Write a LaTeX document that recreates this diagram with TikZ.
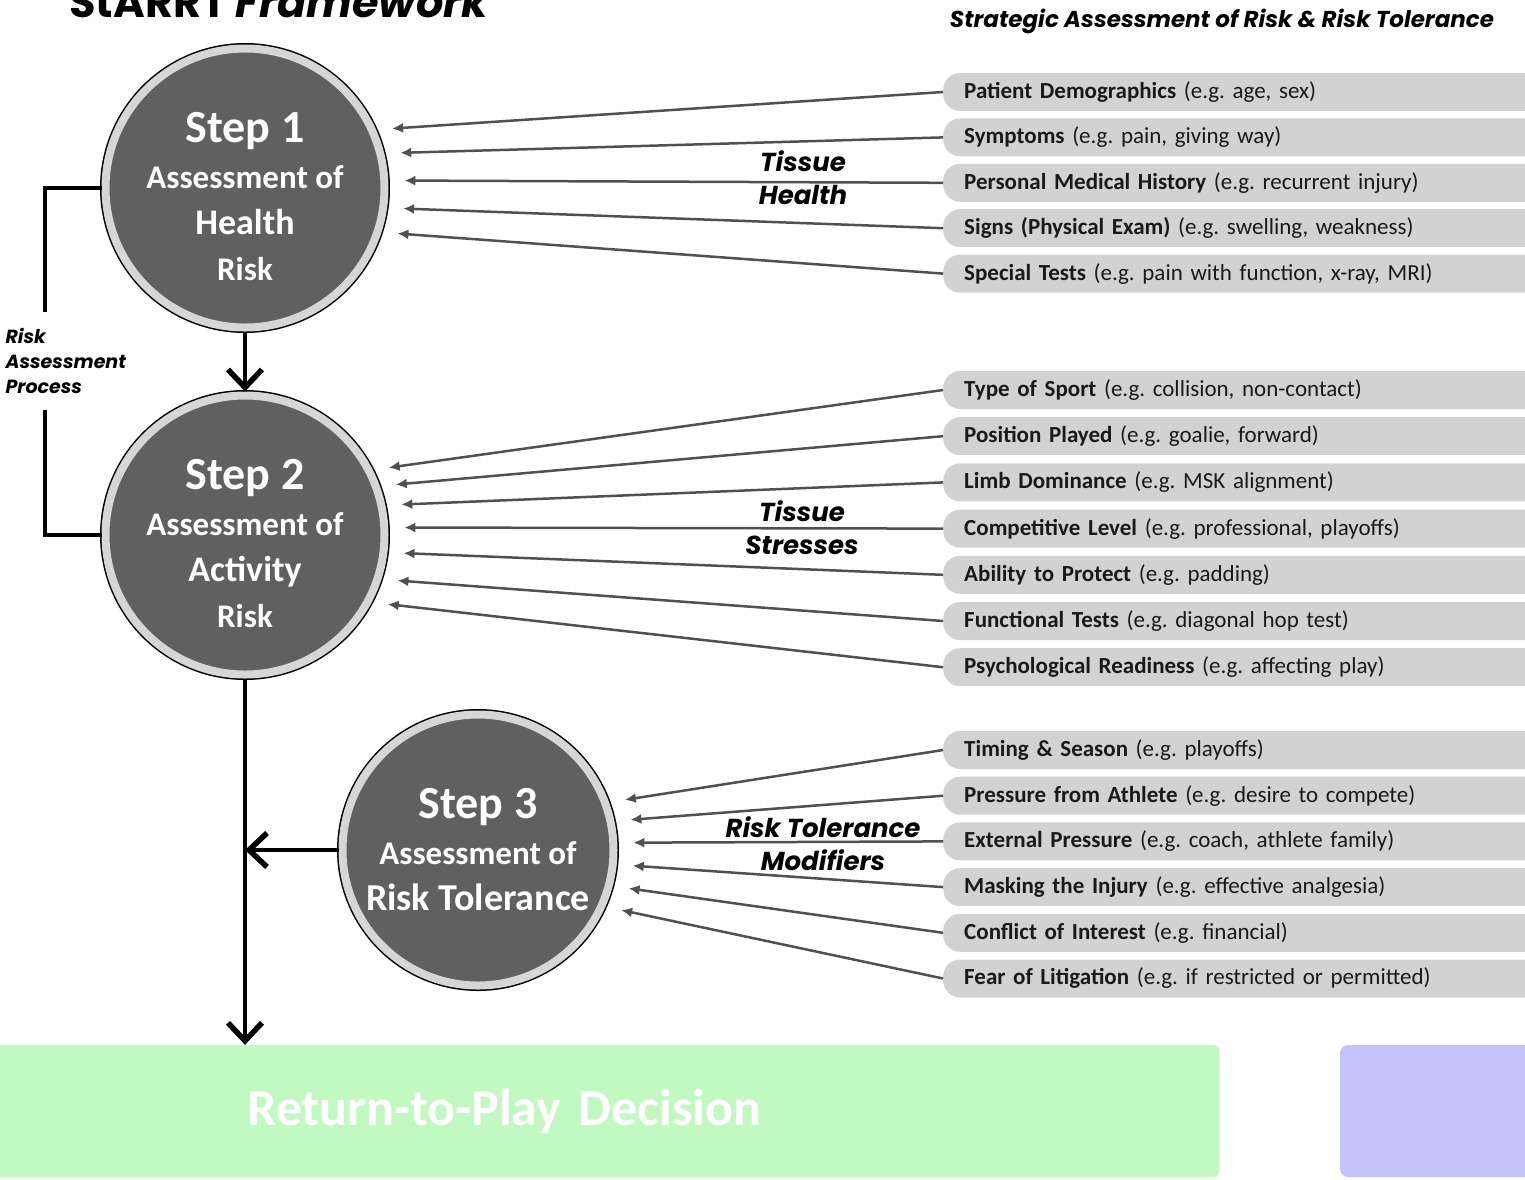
\documentclass[tikz,border=0pt]{standalone}
\usepackage{fontspec}
\setmainfont{Carlito}
\newfontfamily\headfont{Poppins}
\usepackage{tikz}
\usetikzlibrary{arrows.meta,positioning,calc}
\definecolor{stepfill}{RGB}{96,96,96}
\definecolor{stepring}{RGB}{214,214,214}
\definecolor{pillgray}{RGB}{210,210,210}
\definecolor{feedgray}{RGB}{80,80,80}
\definecolor{rtpgreen}{RGB}{193,250,193}
\definecolor{lavender}{RGB}{196,196,250}
\frenchspacing

\begin{document}
\begin{tikzpicture}[x=1pt, y=-1pt,
  stepcircle/.style={circle, fill=stepfill, draw=stepring, line width=8pt, preaction={draw=black, line width=11pt}, minimum size=#1, inner sep=0pt, text=white, align=center, font=\fontsize{33}{46}\selectfont\bfseries},
  pill/.style={anchor=west, fill=pillgray, rounded corners=17pt, minimum height=38pt, text width=580pt, inner xsep=21pt, inner ysep=0pt, align=left, font=\fontsize{23}{26}\selectfont, text=black!90},
  tag/.style={align=center, font=\headfont\bfseries\itshape\fontsize{26}{33}\selectfont},
  feed/.style={draw=feedgray, line width=2.5pt, shorten >=16pt, -{Latex[length=11pt,width=10pt]}},
  flow/.style={line width=4.5pt, -{Straight Barb[length=18pt,width=34pt,line width=5.5pt]}},
  link/.style={line width=3.5pt}]
\useasboundingbox (0,0) rectangle (1525,1179);

% titles
\node[anchor=base west, font=\headfont\bfseries\fontsize{43}{50}\selectfont] (title) at (66,17) {StARRT \itshape Framework};
\node[font=\headfont\bfseries\itshape\fontsize{23}{28}\selectfont] (subtitle) at (1222,21) {Strategic Assessment of Risk \& Risk Tolerance};

% the three steps
\node[stepcircle=279pt] (s1) at (245,188) {\rule{0pt}{48pt}{\fontsize{46}{50}\selectfont Step 1}\\Assessment of\\{\fontsize{36}{46}\selectfont Health}\\Risk};
\node[stepcircle=279pt] (s2) at (245,535) {\rule{0pt}{48pt}{\fontsize{46}{50}\selectfont Step 2}\\Assessment of\\{\fontsize{36}{46}\selectfont Activity}\\Risk};
\node[stepcircle=271pt] (s3) at (478,850) {{\fontsize{46}{50}\selectfont Step 3}\\Assessment of\\{\fontsize{38}{44}\selectfont Risk Tolerance}};

% tissue health
\node[pill] (demo) at (943,92) {\textbf{Patient Demographics} (e.g. age, sex)};
\node[pill, below=7pt of demo.south west, anchor=north west] (symp) {\textbf{Symptoms} (e.g. pain, giving way)};
\node[pill, below=7pt of symp.south west, anchor=north west] (hist) {\textbf{Personal Medical History} (e.g. recurrent injury)};
\node[pill, below=7pt of hist.south west, anchor=north west] (signs) {\textbf{Signs (Physical Exam)} (e.g. swelling, weakness)};
\node[pill, below=7pt of signs.south west, anchor=north west] (special) {\textbf{Special Tests} (e.g. pain with function, x-ray, MRI)};

% tissue stresses
\node[pill] (sport) at (943,390) {\textbf{Type of Sport} (e.g. collision, non-contact)};
\node[pill, below=7.8pt of sport.south west, anchor=north west] (position) {\textbf{Position Played} (e.g. goalie, forward)};
\node[pill, below=7.8pt of position.south west, anchor=north west] (limb) {\textbf{Limb Dominance} (e.g. MSK alignment)};
\node[pill, below=7.8pt of limb.south west, anchor=north west] (level) {\textbf{Competitive Level} (e.g. professional, playoffs)};
\node[pill, below=7.8pt of level.south west, anchor=north west] (protect) {\textbf{Ability to Protect} (e.g. padding)};
\node[pill, below=7.8pt of protect.south west, anchor=north west] (functional) {\textbf{Functional Tests} (e.g. diagonal hop test)};
\node[pill, below=7.8pt of functional.south west, anchor=north west] (psych) {\textbf{Psychological Readiness} (e.g. affecting play)};

% risk tolerance modifiers
\node[pill] (timing) at (943,750) {\textbf{Timing \& Season} (e.g. playoffs)};
\node[pill, below=7.3pt of timing.south west, anchor=north west] (athlete) {\textbf{Pressure from Athlete} (e.g. desire to compete)};
\node[pill, below=7.3pt of athlete.south west, anchor=north west] (external) {\textbf{External Pressure} (e.g. coach, athlete family)};
\node[pill, below=7.3pt of external.south west, anchor=north west] (masking) {\textbf{Masking the Injury} (e.g. effective analgesia)};
\node[pill, below=7.3pt of masking.south west, anchor=north west] (conflict) {\textbf{Conflict of Interest} (e.g. financial)};
\node[pill, below=7.3pt of conflict.south west, anchor=north west] (litigation) {\textbf{Fear of Litigation} (e.g. if restricted or permitted)};

% group labels
\node[tag] (health) at (803,178) {Tissue\\Health};
\node[tag] (stresses) at (802,528) {Tissue\\Stresses};
\node[tag] (modifiers) at (823,844) {Risk Tolerance\\Modifiers};
\node[anchor=west, align=left, font=\headfont\bfseries\itshape\fontsize{19}{25}\selectfont] (proc) at (2,361) {Risk\\Assessment\\Process};

% decision
\node[fill=rtpgreen, rounded corners=6pt, minimum height=132pt, inner xsep=253pt, text width=719pt, align=left, text=white, font=\fontsize{52}{56}\selectfont\bfseries] (rtp) at (607,1111) {Return-to-Play Decision};
\node[fill=lavender, rounded corners=8pt, minimum width=200pt, minimum height=132pt] (side) at (1440,1111) {};

\coordinate (gaptop) at (45,312);
\coordinate (gapbot) at (45,410);

\draw[feed] (demo.west) -- (s1.24);
\draw[feed] (symp.west) -- (s1.14);
\draw[feed] (hist.west) -- (s1.3);
\draw[feed] (signs.west) -- (s1.-8);
\draw[feed] (special.west) -- (s1.-18);
\draw[feed] (sport.west) -- (s2.27);
\draw[feed] (position.west) -- (s2.20);
\draw[feed] (limb.west) -- (s2.12);
\draw[feed] (level.west) -- (s2.3);
\draw[feed] (protect.west) -- (s2.-7);
\draw[feed] (functional.west) -- (s2.-18);
\draw[feed] (psych.west) -- (s2.-28);
\draw[feed] (timing.west) -- (s3.20);
\draw[feed] (athlete.west) -- (s3.12);
\draw[feed] (external.west) -- (s3.3);
\draw[feed] (masking.west) -- (s3.-6);
\draw[feed] (conflict.west) -- (s3.-15);
\draw[feed] (litigation.west) -- (s3.-24);

\draw[link] (s1.west) -| (gaptop);
\draw[link] (gapbot) |- (s2.west);
\draw[flow] (s1.south) -- (s2.north);
\draw[flow] (s2.south) -- (s2.south |- rtp.north);
\draw[flow] (s3.west) -- (s3.west -| s2.south);
\end{tikzpicture}
\end{document}
